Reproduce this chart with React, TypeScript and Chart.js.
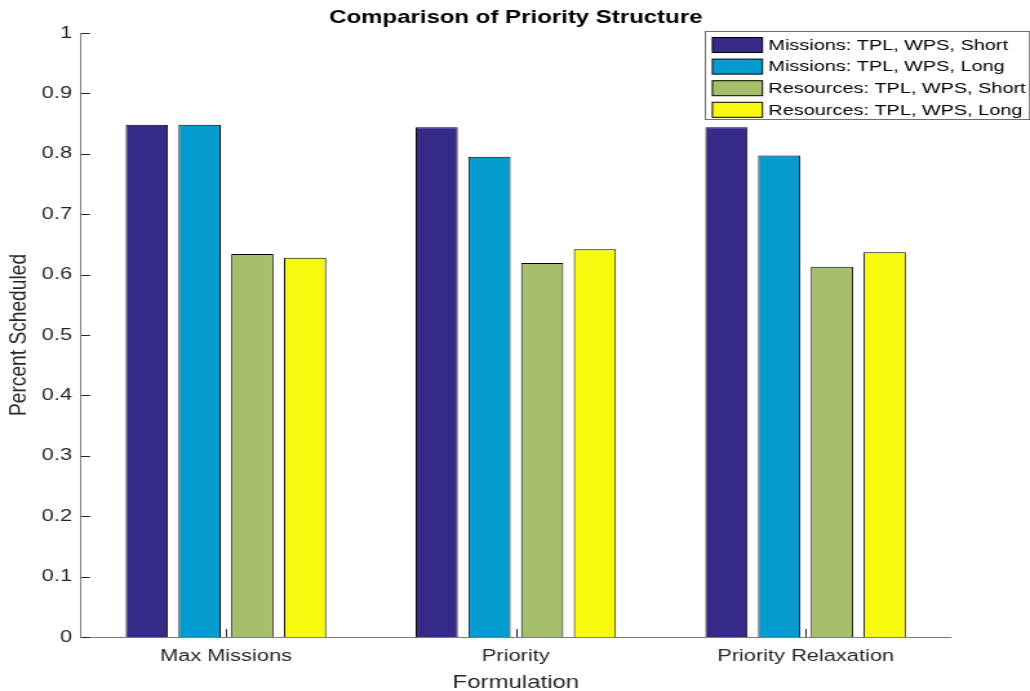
import React, { useEffect, useRef } from "react";
import { Chart, registerables } from "chart.js";

Chart.register(...registerables);

// ---- data ----
const categories = ["Max Missions", "Priority", "Priority Relaxation"];
const seriesLabels = [
  "Missions: TPL, WPS, Short",
  "Missions: TPL, WPS, Long",
  "Resources: TPL, WPS, Short",
  "Resources: TPL, WPS, Long",
];
const missionsShort = [0.848, 0.844, 0.844];
const missionsLong = [0.848, 0.795, 0.797];
const resourcesShort = [0.634, 0.619, 0.613];
const resourcesLong = [0.628, 0.642, 0.637];
const seriesColors = ["#352A87", "#069BCE", "#A5BE6A", "#F8FA0D"];
const yTicks = [0, 0.1, 0.2, 0.3, 0.4, 0.5, 0.6, 0.7, 0.8, 0.9, 1];
const chartTitle = "Comparison of Priority Structure";
const xTitle = "Formulation";
const yTitle = "Percent Scheduled";

// ---- geometry (internal canvas units; canvas stretched horizontally) ----
const OUT_W = 1030;
const OUT_H = 691;
const STRETCH = 1.29;
const CW = Math.round(OUT_W / STRETCH);
const AREA_LEFT = 81 / STRETCH;
const AREA_RIGHT = 950 / STRETCH;
const AREA_TOP = 33;
const AREA_BOTTOM = 637;
const FONT = "'Liberation Sans', Arial, Helvetica, sans-serif";

const overlayPlugin = {
  id: "matlabOverlay",
  afterDraw(chart: any) {
    const ctx = chart.ctx as CanvasRenderingContext2D;
    const area = chart.chartArea;
    const xs = chart.scales.x;
    const ys = chart.scales.y;
    ctx.save();

    // inward tick marks
    ctx.strokeStyle = "#262626";
    ctx.lineWidth = 1;
    ctx.beginPath();
    yTicks.forEach((v) => {
      const y = Math.round(ys.getPixelForValue(v)) + 0.5;
      ctx.moveTo(area.left, y);
      ctx.lineTo(area.left + 7, y);
    });
    categories.forEach((_, i) => {
      const x = Math.round(xs.getPixelForValue(i)) + 0.5;
      ctx.moveTo(x, area.bottom);
      ctx.lineTo(x, area.bottom - 8);
    });
    ctx.stroke();

    // title
    ctx.fillStyle = "#000";
    ctx.font = `bold 18.6px ${FONT}`;
    ctx.textAlign = "center";
    ctx.textBaseline = "middle";
    ctx.fillText(chartTitle, (area.left + area.right) / 2, 18);

    // x title
    ctx.fillStyle = "#262626";
    ctx.font = `18.6px ${FONT}`;
    ctx.fillText(xTitle, (area.left + area.right) / 2, 683);

    // y title
    ctx.save();
    ctx.font = `19.2px ${FONT}`;
    ctx.translate(19 / STRETCH, (area.top + area.bottom) / 2);
    ctx.rotate(-Math.PI / 2);
    ctx.fillText(yTitle, 0, 0);
    ctx.restore();

    // legend
    const lx0 = 705 / STRETCH;
    const lx1 = 1029 / STRETCH;
    const ly0 = 31.5;
    const ly1 = 119.5;
    ctx.fillStyle = "#fff";
    ctx.fillRect(lx0, ly0, lx1 - lx0, ly1 - ly0);
    ctx.strokeStyle = "#6e6e6e";
    ctx.lineWidth = 1;
    ctx.strokeRect(lx0, ly0, lx1 - lx0, ly1 - ly0);
    ctx.font = `15.4px ${FONT}`;
    ctx.textAlign = "left";
    ctx.textBaseline = "middle";
    chart.data.datasets.forEach((ds: any, i: number) => {
      const sy = 37.5 + i * 21.6;
      const sx = 712 / STRETCH;
      const sw = 762 / STRETCH - sx;
      ctx.fillStyle = ds.backgroundColor;
      ctx.fillRect(sx, sy, sw, 15);
      ctx.strokeStyle = "#000";
      ctx.strokeRect(sx, sy, sw, 15);
      ctx.fillStyle = "#000";
      ctx.fillText(ds.label, 768 / STRETCH, sy + 8);
    });

    ctx.restore();
  },
};

export default function App() {
  const canvasRef = useRef<HTMLCanvasElement | null>(null);

  useEffect(() => {
    document.body.style.margin = "0";
    const canvas = canvasRef.current;
    if (!canvas) return;
    const seriesValues = [missionsShort, missionsLong, resourcesShort, resourcesLong];
    const chart = new Chart(canvas, {
      type: "bar",
      data: {
        labels: categories,
        datasets: seriesValues.map((vals, i) => ({
          label: seriesLabels[i],
          data: vals,
          backgroundColor: seriesColors[i],
          borderColor: "#000",
          borderWidth: 1,
          categoryPercentage: 0.728,
          barPercentage: 0.8,
        })),
      },
      options: {
        responsive: false,
        maintainAspectRatio: false,
        animation: false,
        devicePixelRatio: 1,
        layout: {
          padding: { left: 0, top: AREA_TOP, right: CW - AREA_RIGHT, bottom: 0 },
        },
        plugins: {
          legend: { display: false },
          title: { display: false },
          tooltip: { enabled: false },
        },
        scales: {
          x: {
            grid: { display: false, drawTicks: false },
            border: { display: true, color: "#7a7a7a", width: 1 },
            ticks: {
              color: "#262626",
              font: { family: FONT, size: 16.9 },
              padding: 9,
              maxRotation: 0,
              autoSkip: false,
            },
            afterFit: (s: any) => {
              s.height = OUT_H - AREA_BOTTOM;
            },
          },
          y: {
            min: 0,
            max: 1,
            grid: { display: false, drawTicks: false },
            border: { display: true, color: "#7a7a7a", width: 1 },
            afterBuildTicks: (s: any) => {
              s.ticks = yTicks.map((v) => ({ value: v }));
            },
            ticks: {
              color: "#262626",
              font: { family: FONT, size: 16.9 },
              padding: 7,
              callback: (v: any) => String(Math.round(Number(v) * 10) / 10),
            },
            afterFit: (s: any) => {
              s.width = AREA_LEFT;
            },
          },
        },
      },
      plugins: [overlayPlugin],
    });
    return () => chart.destroy();
  }, []);

  return (
    <div style={{ position: "absolute", left: 0, top: 0, width: OUT_W, height: OUT_H, background: "#fff" }}>
      <canvas
        ref={canvasRef}
        width={CW}
        height={OUT_H}
        style={{ width: OUT_W + "px", height: OUT_H + "px", display: "block" }}
      />
    </div>
  );
}
